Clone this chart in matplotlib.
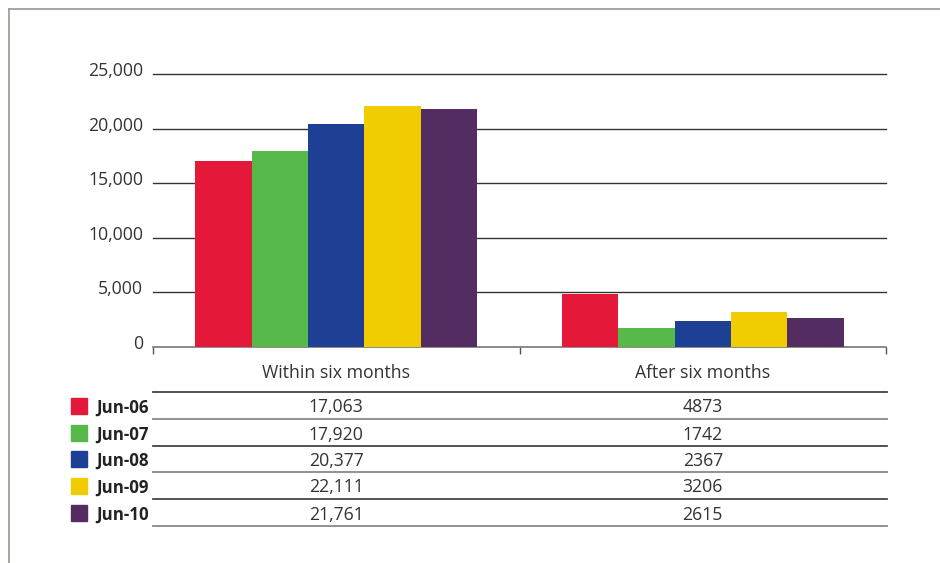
import matplotlib
matplotlib.use("Agg")
import matplotlib.pyplot as plt
from matplotlib.lines import Line2D
from matplotlib.patches import Rectangle
from matplotlib.transforms import offset_copy

categories = ["Within six months", "After six months"]
series_labels = ["Jun-06", "Jun-07", "Jun-08", "Jun-09", "Jun-10"]
within = [17063, 17920, 20377, 22111, 21761]
after = [4873, 1742, 2367, 3206, 2615]
within_text = ["17,063", "17,920", "20,377", "22,111", "21,761"]
after_text = ["4873", "1742", "2367", "3206", "2615"]
yticks = [0, 5000, 10000, 15000, 20000, 25000]
ytick_labels = ["0", "5,000", "10,000", "15,000", "20,000", "25,000"]
colors = ["#e4193a", "#56b94a", "#1d3f94", "#f0cc00", "#532d62"]

plt.rcParams['font.family'] = ['Open Sans', 'DejaVu Sans']
TXT = "#333333"
FS = 12.7

W, H = 940, 563
fig = plt.figure(figsize=(W / 100, H / 100), dpi=100)

def fx(px):
    return px / W

def fy(py):
    return 1 - py / H

# outer frame
fig.add_artist(Line2D([fx(9), 1], [fy(9), fy(9)], color="#9a958e", lw=1.2))
fig.add_artist(Line2D([fx(9), fx(9)], [fy(9), 0], color="#9a958e", lw=1.2))

x0, x1 = 153, 886
y_top, y_bot = 74, 347
ax = fig.add_axes([fx(x0), fy(y_bot), fx(x1) - fx(x0), (y_bot - y_top) / H])
ax.set_xlim(-0.5, 1.5)
ax.set_ylim(0, 25000)

n = len(series_labels)
group_w = 0.77
bw = group_w / n
for i in range(n):
    xs = [c - group_w / 2 + bw * (i + 0.5) for c in range(len(categories))]
    vals = [within[i], after[i]]
    ax.bar(xs, vals, width=bw, color=colors[i], zorder=3, linewidth=0)

for s in ["top", "right", "left"]:
    ax.spines[s].set_visible(False)
ax.spines["bottom"].set_color("#777777")
ax.spines["bottom"].set_linewidth(1.2)

ax.set_yticks(yticks)
ax.set_yticklabels([])
ax.tick_params(axis="y", length=0)
ytr = offset_copy(ax.get_yaxis_transform(), fig, x=-10, y=3, units="dots")
for t, lab in zip(yticks, ytick_labels):
    ax.text(0, t, lab, transform=ytr, ha="right", va="center", fontsize=FS, color=TXT)
for t in yticks[1:]:
    ax.axhline(t, color="#333333", lw=1.0, zorder=1, clip_on=False)

ax.set_xticks([0, 1])
ax.set_xticklabels(categories, fontsize=FS, color=TXT)
ax.tick_params(axis="x", which="major", length=0, pad=12)
ax.set_xticks([-0.5, 0.5, 1.5], minor=True)
ax.tick_params(axis="x", which="minor", length=5, width=1, color="#555555", direction="out")

# data table
row_lines = [392, 419, 446, 472, 499, 526]
line_cols = ["#444444", "#888888", "#444444", "#888888", "#444444", "#888888"]
for y, c in zip(row_lines, line_cols):
    fig.add_artist(Line2D([fx(x0), fx(x1 + 1)], [fy(y), fy(y)], color=c, lw=1.3))

cx = [fx(x0 + (x1 - x0) * 0.25), fx(x0 + (x1 - x0) * 0.75)]
for i in range(n):
    yc = (row_lines[i] + row_lines[i + 1]) / 2
    fig.text(cx[0], fy(yc + 2), within_text[i], ha="center", va="center", fontsize=FS, color=TXT)
    fig.text(cx[1], fy(yc + 2), after_text[i], ha="center", va="center", fontsize=FS, color=TXT)
    fig.add_artist(Rectangle((fx(71), fy(yc + 8)), fx(16), 16 / H, color=colors[i]))
    fig.text(fx(96), fy(yc + 2), series_labels[i], ha="left", va="center", fontsize=12.2,
             fontweight="bold", color="#222222")

fig.savefig("out.png", dpi=100)
